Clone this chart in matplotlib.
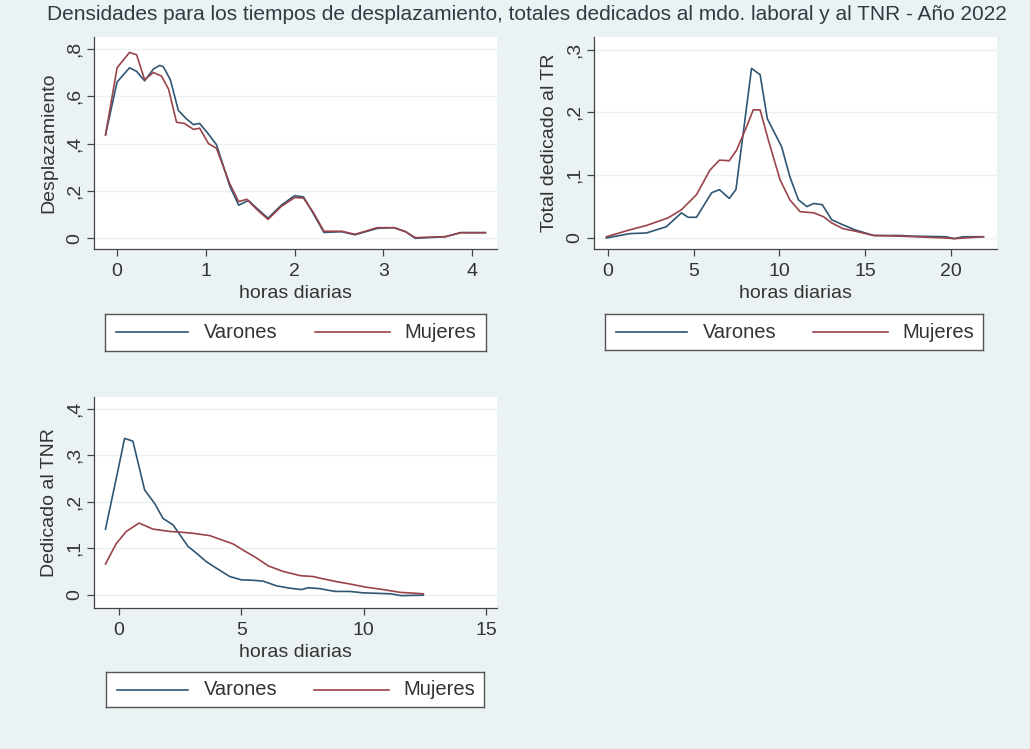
import numpy as np
from matplotlib import pyplot as plt

plt.rcParams['font.family'] = ['Liberation Sans', 'DejaVu Sans']

# desplazamiento
desp_x_v = [-0.13, 0.0, 0.14, 0.22, 0.31, 0.41, 0.48, 0.52, 0.6, 0.69, 0.78, 0.86, 0.93,
            1.03, 1.12, 1.27, 1.37, 1.48, 1.58, 1.70, 1.85, 2.0, 2.1, 2.21, 2.33, 2.53,
            2.68, 2.93, 3.12, 3.25, 3.36, 3.7, 3.87, 4.15]
desp_y_v = [0.437, 0.66, 0.72, 0.705, 0.665, 0.715, 0.73, 0.725, 0.67, 0.54, 0.505, 0.48, 0.485,
            0.44, 0.395, 0.22, 0.14, 0.16, 0.125, 0.085, 0.14, 0.18, 0.175, 0.105, 0.025, 0.028,
            0.015, 0.042, 0.045, 0.028, 0.0, 0.007, 0.024, 0.024]
desp_x_m = [-0.13, 0.0, 0.14, 0.22, 0.31, 0.41, 0.5, 0.58, 0.67, 0.76, 0.86, 0.93,
            1.03, 1.12, 1.27, 1.37, 1.46, 1.58, 1.70, 1.85, 2.0, 2.1, 2.21, 2.33, 2.53,
            2.68, 2.93, 3.12, 3.25, 3.36, 3.7, 3.87, 4.15]
desp_y_m = [0.437, 0.72, 0.785, 0.775, 0.67, 0.70, 0.685, 0.63, 0.49, 0.485, 0.46, 0.465,
            0.40, 0.38, 0.23, 0.155, 0.165, 0.12, 0.08, 0.135, 0.172, 0.17, 0.11, 0.03, 0.03,
            0.017, 0.045, 0.045, 0.028, 0.003, 0.007, 0.024, 0.024]

# total dedicado al TR
tr_x_v = [-0.1, 1.27, 2.24, 3.4, 4.28, 4.67, 5.16, 6.04, 6.5, 7.07, 7.46, 7.9, 8.37, 8.87,
          9.29, 10.13, 10.6, 11.1, 11.6, 12.0, 12.5, 13.05, 13.7, 14.4, 15.5, 17.0, 17.7,
          19.7, 20.2, 20.7, 21.9]
tr_y_v = [0.0, 0.007, 0.008, 0.018, 0.04, 0.033, 0.033, 0.072, 0.077, 0.063, 0.077, 0.17, 0.27,
          0.26, 0.19, 0.145, 0.098, 0.061, 0.05, 0.055, 0.053, 0.029, 0.021, 0.013, 0.004,
          0.004, 0.003, 0.002, -0.001, 0.002, 0.002]
tr_x_m = [-0.1, 1.27, 2.24, 3.5, 4.28, 5.16, 5.94, 6.5, 7.07, 7.5, 8.08, 8.47, 8.87, 9.35,
          10.03, 10.6, 11.2, 12.0, 12.56, 13.05, 13.7, 14.4, 15.5, 17.0, 19.7, 20.2, 21.9]
tr_y_m = [0.002, 0.013, 0.02, 0.032, 0.045, 0.069, 0.108, 0.124, 0.123, 0.14, 0.177, 0.204,
          0.204, 0.156, 0.093, 0.061, 0.042, 0.04, 0.034, 0.024, 0.015, 0.011, 0.004, 0.003,
          0.0, -0.001, 0.002]

# dedicado al TNR
tnr_x_v = [-0.55, -0.11, 0.23, 0.57, 1.05, 1.46, 1.8, 2.21, 2.82, 3.17, 3.57, 3.98, 4.53, 5.0,
           5.48, 5.9, 6.44, 6.98, 7.46, 7.74, 8.2, 8.83, 9.44, 9.98, 11.08, 11.55, 12.44]
tnr_y_v = [0.141, 0.25, 0.336, 0.33, 0.225, 0.196, 0.164, 0.15, 0.104, 0.089, 0.071, 0.057,
           0.039, 0.032, 0.031, 0.029, 0.019, 0.014, 0.011, 0.015, 0.013, 0.007, 0.007, 0.004,
           0.002, -0.002, -0.001]
tnr_x_m = [-0.55, -0.11, 0.3, 0.82, 1.39, 2.07, 2.62, 3.03, 3.71, 4.19, 4.67, 5.07, 5.62, 6.1,
           6.71, 7.4, 7.94, 8.35, 8.9, 9.44, 10.12, 10.8, 11.5, 12.44]
tnr_y_m = [0.066, 0.11, 0.136, 0.154, 0.141, 0.136, 0.134, 0.132, 0.127, 0.118, 0.109, 0.096,
           0.079, 0.062, 0.05, 0.041, 0.039, 0.034, 0.028, 0.023, 0.016, 0.011, 0.005, 0.002]

series = ['Varones', 'Mujeres']

azul = '#2e5675'
rojo = '#99434a'
fondo = '#eaf2f3'
gris = '#333333'
W, H = 1030, 749


def rect(left, top, right, bottom):
    return [left / W, (H - bottom) / H, (right - left) / W, (bottom - top) / H]


def leyenda(box):
    # caja de leyenda al estilo Stata: linea, texto, linea, texto
    lg = fig.add_axes(rect(*box))
    lg.set_xlim(0, 1)
    lg.set_ylim(0, 1)
    lg.set_xticks([])
    lg.set_yticks([])
    for s in lg.spines.values():
        s.set_color('#555555')
        s.set_linewidth(1.0)
    for (x0, x1, xt), nombre, c in zip([(0.029, 0.218, 0.260), (0.551, 0.748, 0.787)],
                                       series, [azul, rojo]):
        lg.plot([x0, x1], [0.5, 0.5], color=c, lw=1.2)
        lg.text(xt, 0.5, nombre, ha='left', va='center', fontsize=14.5, color=gris)


def panel(box, xs, ys, xlim, ylim, xticks, yticks, ylab, legbox):
    ax = fig.add_axes(rect(*box))
    ax.set_facecolor('white')
    for xv, yv, c in zip(xs, ys, [azul, rojo]):
        ax.plot(xv, yv, color=c, lw=1.2)
    ax.set_xlim(xlim)
    ax.set_ylim(ylim)
    ax.set_xticks(xticks)
    ax.set_yticks(yticks)
    ax.set_yticklabels([('%g' % t).replace('0.', ',') if t != 0 else '0' for t in yticks],
                       rotation=90, va='center')
    for t in yticks:
        ax.axhline(t, color=fondo, lw=1.0, zorder=0)
    ax.spines['top'].set_visible(False)
    ax.spines['right'].set_visible(False)
    for s in ['left', 'bottom']:
        ax.spines[s].set_color('#444444')
        ax.spines[s].set_linewidth(0.9)
    ax.tick_params(direction='out', length=5, width=0.9, color='#444444',
                   labelsize=14, labelcolor=gris, pad=3)
    ax.tick_params(axis='x', pad=5)
    ax.set_xlabel('horas diarias', fontsize=14, color=gris, labelpad=4)
    ax.set_ylabel(ylab, fontsize=14, color=gris, labelpad=6)
    leyenda(legbox)
    return ax


fig = plt.figure(figsize=(W / 100, H / 100), dpi=100, facecolor=fondo)

panel((94, 37, 497, 249), [desp_x_v, desp_x_m], [desp_y_v, desp_y_m],
      (-0.26, 4.28), (-0.045, 0.85), [0, 1, 2, 3, 4], [0, 0.2, 0.4, 0.6, 0.8],
      'Desplazamiento', (105, 314, 486, 351))

panel((594, 37, 997, 249), [tr_x_v, tr_x_m], [tr_y_v, tr_y_m],
      (-0.82, 22.69), (-0.0175, 0.32), [0, 5, 10, 15, 20], [0, 0.1, 0.2, 0.3],
      'Total dedicado al TR', (605, 314, 983, 350))

panel((94, 397, 497, 608), [tnr_x_v, tnr_x_m], [tnr_y_v, tnr_y_m],
      (-1.02, 15.45), (-0.0286, 0.425), [0, 5, 10, 15], [0, 0.1, 0.2, 0.3, 0.4],
      'Dedicado al TNR', (106, 672, 484, 707))

fig.text(527 / W, 1 - 14 / H, 'Densidades para los tiempos de desplazamiento, totales dedicados al '
         'mdo. laboral y al TNR - Año 2022', ha='center', va='center', fontsize=15.0,
         color='#333a44')

fig.savefig('out.png', dpi=100, facecolor=fondo)
